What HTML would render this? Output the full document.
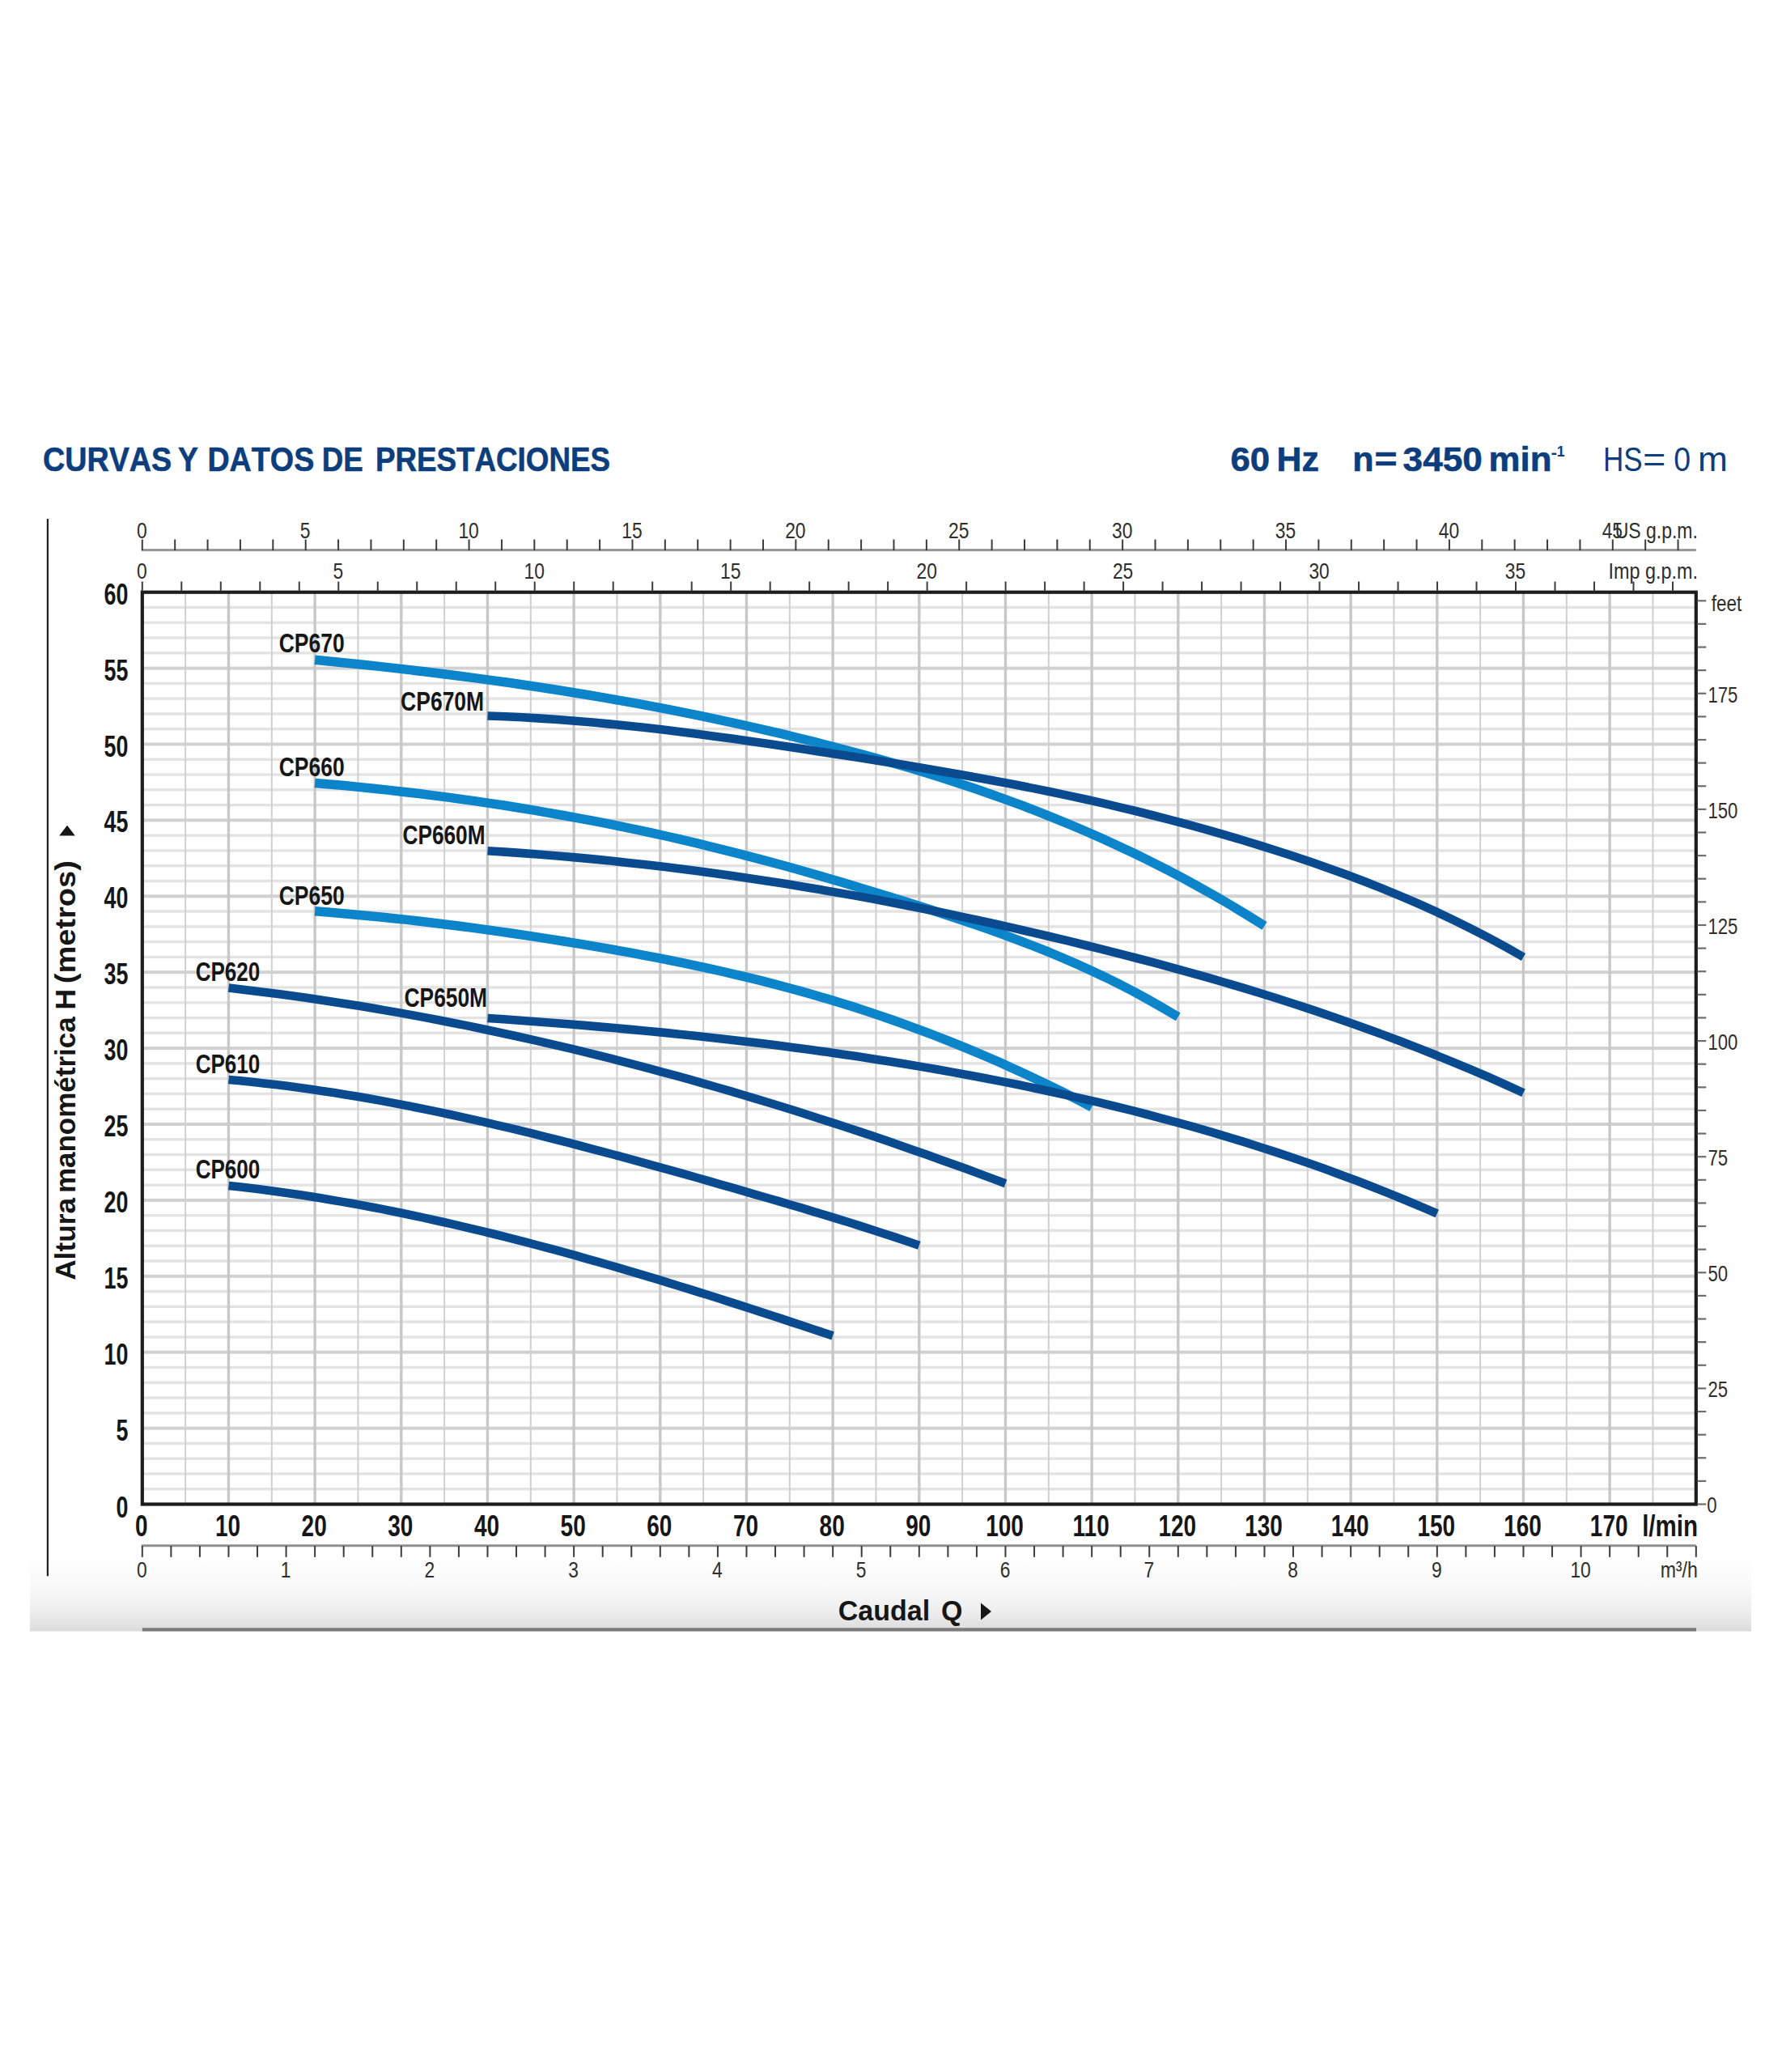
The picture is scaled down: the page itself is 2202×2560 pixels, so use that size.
<!DOCTYPE html>
<html lang="es"><head><meta charset="utf-8"><title>Curvas y datos de prestaciones</title>
<style>html,body{margin:0;padding:0;background:#fff}body{width:2202px;height:2560px;overflow:hidden;font-family:"Liberation Sans",sans-serif}svg{display:block;font-family:"Liberation Sans",sans-serif}</style>
</head><body>
<svg width="2202" height="2560" viewBox="0 0 2202 2560">
<defs><linearGradient id="band" x1="0" y1="0" x2="0" y2="1"><stop offset="0" stop-color="#ffffff"/><stop offset="0.43" stop-color="#fafafa"/><stop offset="0.75" stop-color="#eeeeee"/><stop offset="1" stop-color="#dcdcdc"/></linearGradient></defs>
<g id="chart">
<rect width="2202" height="2560" fill="#fff"/>
<rect x="37" y="1915" width="2127" height="100.5" fill="url(#band)"/>
<rect x="175.8" y="2011.3" width="1920.2" height="4.2" fill="#7c7c7c"/>
<rect x="57.8" y="641" width="2.2" height="1306.3" fill="#222"/>
<text x="53.06" y="581.60" font-size="43" font-weight="bold" fill="#0c3d7c" textLength="159.02" lengthAdjust="spacingAndGlyphs" style="font-kerning:none" stroke="#0c3d7c" stroke-width="0.6">CURVAS</text>
<text x="220.06" y="581.60" font-size="43" font-weight="bold" fill="#0c3d7c" textLength="24.84" lengthAdjust="spacingAndGlyphs" style="font-kerning:none" stroke="#0c3d7c" stroke-width="0.6">Y</text>
<text x="256.38" y="581.60" font-size="43" font-weight="bold" fill="#0c3d7c" textLength="131.89" lengthAdjust="spacingAndGlyphs" style="font-kerning:none" stroke="#0c3d7c" stroke-width="0.6">DATOS</text>
<text x="397.74" y="581.60" font-size="43" font-weight="bold" fill="#0c3d7c" textLength="50.99" lengthAdjust="spacingAndGlyphs" style="font-kerning:none" stroke="#0c3d7c" stroke-width="0.6">DE</text>
<text x="463.94" y="581.60" font-size="43" font-weight="bold" fill="#0c3d7c" textLength="290.10" lengthAdjust="spacingAndGlyphs" style="font-kerning:none" stroke="#0c3d7c" stroke-width="0.6">PRESTACIONES</text>
<text x="1520.40" y="582.00" font-size="43" font-weight="bold" fill="#0c3d7c" textLength="48.70" lengthAdjust="spacingAndGlyphs" style="font-kerning:none" stroke="#0c3d7c" stroke-width="0.6">60</text>
<text x="1577.53" y="582.00" font-size="43" font-weight="bold" fill="#0c3d7c" textLength="52.42" lengthAdjust="spacingAndGlyphs" style="font-kerning:none" stroke="#0c3d7c" stroke-width="0.6">Hz</text>
<text x="1671.16" y="582.00" font-size="43" font-weight="bold" fill="#0c3d7c" textLength="26.31" lengthAdjust="spacingAndGlyphs" style="font-kerning:none" stroke="#0c3d7c" stroke-width="0.6">n</text>
<text x="1698.41" y="582.00" font-size="43" font-weight="bold" fill="#0c3d7c" textLength="28.07" lengthAdjust="spacingAndGlyphs" style="font-kerning:none" stroke="#0c3d7c" stroke-width="0.6">=</text>
<text x="1733.59" y="582.00" font-size="43" font-weight="bold" fill="#0c3d7c" textLength="98.22" lengthAdjust="spacingAndGlyphs" style="font-kerning:none" stroke="#0c3d7c" stroke-width="0.6">3450</text>
<text x="1839.51" y="582.00" font-size="43" font-weight="bold" fill="#0c3d7c" textLength="77.91" lengthAdjust="spacingAndGlyphs" style="font-kerning:none" stroke="#0c3d7c" stroke-width="0.6">min</text>
<text x="1916.51" y="565.50" font-size="20" font-weight="bold" fill="#0c3d7c" textLength="7.61" lengthAdjust="spacingAndGlyphs" style="font-kerning:none">-</text>
<text x="1923.69" y="563.90" font-size="18" font-weight="bold" fill="#0c3d7c" textLength="9.80" lengthAdjust="spacingAndGlyphs" style="font-kerning:none">1</text>
<text x="1980.93" y="582.00" font-size="43" font-weight="normal" fill="#0c3d7c" textLength="48.68" lengthAdjust="spacingAndGlyphs" style="font-kerning:none">HS</text>
<text x="2030.13" y="582.00" font-size="43" font-weight="normal" fill="#0c3d7c" textLength="28.37" lengthAdjust="spacingAndGlyphs" style="font-kerning:none">=</text>
<text x="2068.14" y="582.00" font-size="43" font-weight="normal" fill="#0c3d7c" textLength="20.83" lengthAdjust="spacingAndGlyphs" style="font-kerning:none">0</text>
<text x="2098.06" y="582.00" font-size="43" font-weight="normal" fill="#0c3d7c" textLength="36.85" lengthAdjust="spacingAndGlyphs" style="font-kerning:none">m</text>
<g id="grid">
<rect x="175.8" y="1838.02" width="1920" height="3.4" fill="#e3e3e3"/>
<rect x="175.8" y="1819.24" width="1920" height="3.4" fill="#e3e3e3"/>
<rect x="175.8" y="1800.46" width="1920" height="3.4" fill="#e3e3e3"/>
<rect x="175.8" y="1781.68" width="1920" height="3.4" fill="#e3e3e3"/>
<rect x="175.8" y="1762.60" width="1920" height="4" fill="#d1d1d1"/>
<rect x="175.8" y="1744.12" width="1920" height="3.4" fill="#e3e3e3"/>
<rect x="175.8" y="1725.34" width="1920" height="3.4" fill="#e3e3e3"/>
<rect x="175.8" y="1706.56" width="1920" height="3.4" fill="#e3e3e3"/>
<rect x="175.8" y="1687.78" width="1920" height="3.4" fill="#e3e3e3"/>
<rect x="175.8" y="1668.70" width="1920" height="4" fill="#d1d1d1"/>
<rect x="175.8" y="1650.22" width="1920" height="3.4" fill="#e3e3e3"/>
<rect x="175.8" y="1631.44" width="1920" height="3.4" fill="#e3e3e3"/>
<rect x="175.8" y="1612.66" width="1920" height="3.4" fill="#e3e3e3"/>
<rect x="175.8" y="1593.88" width="1920" height="3.4" fill="#e3e3e3"/>
<rect x="175.8" y="1574.80" width="1920" height="4" fill="#d1d1d1"/>
<rect x="175.8" y="1556.32" width="1920" height="3.4" fill="#e3e3e3"/>
<rect x="175.8" y="1537.54" width="1920" height="3.4" fill="#e3e3e3"/>
<rect x="175.8" y="1518.76" width="1920" height="3.4" fill="#e3e3e3"/>
<rect x="175.8" y="1499.98" width="1920" height="3.4" fill="#e3e3e3"/>
<rect x="175.8" y="1480.90" width="1920" height="4" fill="#d1d1d1"/>
<rect x="175.8" y="1462.42" width="1920" height="3.4" fill="#e3e3e3"/>
<rect x="175.8" y="1443.64" width="1920" height="3.4" fill="#e3e3e3"/>
<rect x="175.8" y="1424.86" width="1920" height="3.4" fill="#e3e3e3"/>
<rect x="175.8" y="1406.08" width="1920" height="3.4" fill="#e3e3e3"/>
<rect x="175.8" y="1387.00" width="1920" height="4" fill="#d1d1d1"/>
<rect x="175.8" y="1368.52" width="1920" height="3.4" fill="#e3e3e3"/>
<rect x="175.8" y="1349.74" width="1920" height="3.4" fill="#e3e3e3"/>
<rect x="175.8" y="1330.96" width="1920" height="3.4" fill="#e3e3e3"/>
<rect x="175.8" y="1312.18" width="1920" height="3.4" fill="#e3e3e3"/>
<rect x="175.8" y="1293.10" width="1920" height="4" fill="#d1d1d1"/>
<rect x="175.8" y="1274.62" width="1920" height="3.4" fill="#e3e3e3"/>
<rect x="175.8" y="1255.84" width="1920" height="3.4" fill="#e3e3e3"/>
<rect x="175.8" y="1237.06" width="1920" height="3.4" fill="#e3e3e3"/>
<rect x="175.8" y="1218.28" width="1920" height="3.4" fill="#e3e3e3"/>
<rect x="175.8" y="1199.20" width="1920" height="4" fill="#d1d1d1"/>
<rect x="175.8" y="1180.72" width="1920" height="3.4" fill="#e3e3e3"/>
<rect x="175.8" y="1161.94" width="1920" height="3.4" fill="#e3e3e3"/>
<rect x="175.8" y="1143.16" width="1920" height="3.4" fill="#e3e3e3"/>
<rect x="175.8" y="1124.38" width="1920" height="3.4" fill="#e3e3e3"/>
<rect x="175.8" y="1105.30" width="1920" height="4" fill="#d1d1d1"/>
<rect x="175.8" y="1086.82" width="1920" height="3.4" fill="#e3e3e3"/>
<rect x="175.8" y="1068.04" width="1920" height="3.4" fill="#e3e3e3"/>
<rect x="175.8" y="1049.26" width="1920" height="3.4" fill="#e3e3e3"/>
<rect x="175.8" y="1030.48" width="1920" height="3.4" fill="#e3e3e3"/>
<rect x="175.8" y="1011.40" width="1920" height="4" fill="#d1d1d1"/>
<rect x="175.8" y="992.92" width="1920" height="3.4" fill="#e3e3e3"/>
<rect x="175.8" y="974.14" width="1920" height="3.4" fill="#e3e3e3"/>
<rect x="175.8" y="955.36" width="1920" height="3.4" fill="#e3e3e3"/>
<rect x="175.8" y="936.58" width="1920" height="3.4" fill="#e3e3e3"/>
<rect x="175.8" y="917.50" width="1920" height="4" fill="#d1d1d1"/>
<rect x="175.8" y="899.02" width="1920" height="3.4" fill="#e3e3e3"/>
<rect x="175.8" y="880.24" width="1920" height="3.4" fill="#e3e3e3"/>
<rect x="175.8" y="861.46" width="1920" height="3.4" fill="#e3e3e3"/>
<rect x="175.8" y="842.68" width="1920" height="3.4" fill="#e3e3e3"/>
<rect x="175.8" y="823.60" width="1920" height="4" fill="#d1d1d1"/>
<rect x="175.8" y="805.12" width="1920" height="3.4" fill="#e3e3e3"/>
<rect x="175.8" y="786.34" width="1920" height="3.4" fill="#e3e3e3"/>
<rect x="175.8" y="767.56" width="1920" height="3.4" fill="#e3e3e3"/>
<rect x="175.8" y="748.78" width="1920" height="3.4" fill="#e3e3e3"/>
<rect x="228.13" y="731.7" width="2" height="1126.8" fill="#d0d0d0"/>
<rect x="280.77" y="731.7" width="3.4" height="1126.8" fill="#c8c8c8"/>
<rect x="334.80" y="731.7" width="2" height="1126.8" fill="#d0d0d0"/>
<rect x="387.43" y="731.7" width="3.4" height="1126.8" fill="#c8c8c8"/>
<rect x="441.47" y="731.7" width="2" height="1126.8" fill="#d0d0d0"/>
<rect x="494.10" y="731.7" width="3.4" height="1126.8" fill="#c8c8c8"/>
<rect x="548.13" y="731.7" width="2" height="1126.8" fill="#d0d0d0"/>
<rect x="600.77" y="731.7" width="3.4" height="1126.8" fill="#c8c8c8"/>
<rect x="654.80" y="731.7" width="2" height="1126.8" fill="#d0d0d0"/>
<rect x="707.43" y="731.7" width="3.4" height="1126.8" fill="#c8c8c8"/>
<rect x="761.47" y="731.7" width="2" height="1126.8" fill="#d0d0d0"/>
<rect x="814.10" y="731.7" width="3.4" height="1126.8" fill="#c8c8c8"/>
<rect x="868.14" y="731.7" width="2" height="1126.8" fill="#d0d0d0"/>
<rect x="920.77" y="731.7" width="3.4" height="1126.8" fill="#c8c8c8"/>
<rect x="974.80" y="731.7" width="2" height="1126.8" fill="#d0d0d0"/>
<rect x="1027.44" y="731.7" width="3.4" height="1126.8" fill="#c8c8c8"/>
<rect x="1081.47" y="731.7" width="2" height="1126.8" fill="#d0d0d0"/>
<rect x="1134.10" y="731.7" width="3.4" height="1126.8" fill="#c8c8c8"/>
<rect x="1188.14" y="731.7" width="2" height="1126.8" fill="#d0d0d0"/>
<rect x="1240.77" y="731.7" width="3.4" height="1126.8" fill="#c8c8c8"/>
<rect x="1294.80" y="731.7" width="2" height="1126.8" fill="#d0d0d0"/>
<rect x="1347.44" y="731.7" width="3.4" height="1126.8" fill="#c8c8c8"/>
<rect x="1401.47" y="731.7" width="2" height="1126.8" fill="#d0d0d0"/>
<rect x="1454.10" y="731.7" width="3.4" height="1126.8" fill="#c8c8c8"/>
<rect x="1508.14" y="731.7" width="2" height="1126.8" fill="#d0d0d0"/>
<rect x="1560.77" y="731.7" width="3.4" height="1126.8" fill="#c8c8c8"/>
<rect x="1614.80" y="731.7" width="2" height="1126.8" fill="#d0d0d0"/>
<rect x="1667.44" y="731.7" width="3.4" height="1126.8" fill="#c8c8c8"/>
<rect x="1721.47" y="731.7" width="2" height="1126.8" fill="#d0d0d0"/>
<rect x="1774.11" y="731.7" width="3.4" height="1126.8" fill="#c8c8c8"/>
<rect x="1828.14" y="731.7" width="2" height="1126.8" fill="#d0d0d0"/>
<rect x="1880.77" y="731.7" width="3.4" height="1126.8" fill="#c8c8c8"/>
<rect x="1934.81" y="731.7" width="2" height="1126.8" fill="#d0d0d0"/>
<rect x="1987.44" y="731.7" width="3.4" height="1126.8" fill="#c8c8c8"/>
<rect x="2041.47" y="731.7" width="2" height="1126.8" fill="#d0d0d0"/>
</g>
<g id="curves">
<path d="M389.1,815.3 L409.0,817.3 L428.9,819.2 L448.8,821.3 L468.7,823.4 L488.6,825.6 L508.5,827.9 L528.3,830.3 L548.2,832.7 L568.1,835.2 L588.0,837.9 L607.9,840.6 L627.8,843.3 L647.7,846.2 L667.6,849.2 L687.4,852.3 L707.3,855.5 L727.2,858.7 L747.1,862.1 L767.0,865.6 L786.9,869.2 L806.8,872.9 L826.6,876.7 L846.5,880.6 L866.4,884.7 L886.3,888.8 L906.2,893.1 L926.1,897.5 L946.0,902.1 L965.9,906.7 L985.7,911.5 L1005.6,916.4 L1025.5,921.5 L1045.4,926.7 L1065.3,932.0 L1085.2,937.5 L1105.1,943.2 L1125.0,949.0 L1144.8,955.0 L1164.7,961.3 L1184.6,967.7 L1204.5,974.3 L1224.4,981.2 L1244.3,988.4 L1264.2,995.7 L1284.1,1003.4 L1303.9,1011.3 L1323.8,1019.5 L1343.7,1028.0 L1363.6,1036.8 L1383.5,1045.9 L1403.4,1055.3 L1423.3,1065.1 L1443.1,1075.2 L1463.0,1085.7 L1482.9,1096.6 L1502.8,1107.8 L1522.7,1119.4 L1542.6,1131.5 L1562.5,1143.9" fill="none" stroke="#0b84c9" stroke-width="11.5" stroke-linejoin="round"/>
<path d="M389.1,967.4 L407.2,969.0 L425.3,970.6 L443.4,972.4 L461.5,974.2 L479.5,976.1 L497.6,978.2 L515.7,980.3 L533.8,982.6 L551.8,984.9 L569.9,987.4 L588.0,989.9 L606.1,992.6 L624.2,995.3 L642.2,998.2 L660.3,1001.2 L678.4,1004.3 L696.5,1007.5 L714.6,1010.8 L732.6,1014.2 L750.7,1017.7 L768.8,1021.4 L786.9,1025.2 L805.0,1029.0 L823.0,1033.0 L841.1,1037.2 L859.2,1041.4 L877.3,1045.8 L895.4,1050.3 L913.4,1054.9 L931.5,1059.6 L949.6,1064.4 L967.7,1069.3 L985.7,1074.3 L1003.8,1079.5 L1021.9,1084.7 L1040.0,1090.0 L1058.1,1095.4 L1076.1,1100.9 L1094.2,1106.4 L1112.3,1112.1 L1130.4,1117.8 L1148.5,1123.6 L1166.5,1129.5 L1184.6,1135.5 L1202.7,1141.6 L1220.8,1147.9 L1238.9,1154.4 L1256.9,1161.1 L1275.0,1168.0 L1293.1,1175.2 L1311.2,1182.7 L1329.2,1190.5 L1347.3,1198.7 L1365.4,1207.2 L1383.5,1216.2 L1401.6,1225.5 L1419.6,1235.4 L1437.7,1245.7 L1455.8,1256.4" fill="none" stroke="#0b84c9" stroke-width="11.5" stroke-linejoin="round"/>
<path d="M389.1,1125.8 L405.4,1127.1 L421.7,1128.4 L437.9,1129.9 L454.2,1131.4 L470.5,1133.0 L486.8,1134.7 L503.0,1136.4 L519.3,1138.3 L535.6,1140.2 L551.8,1142.2 L568.1,1144.2 L584.4,1146.4 L600.7,1148.6 L616.9,1150.9 L633.2,1153.2 L649.5,1155.6 L665.7,1158.1 L682.0,1160.6 L698.3,1163.2 L714.6,1165.9 L730.8,1168.6 L747.1,1171.4 L763.4,1174.3 L779.6,1177.2 L795.9,1180.3 L812.2,1183.4 L828.5,1186.6 L844.7,1189.9 L861.0,1193.3 L877.3,1196.8 L893.5,1200.5 L909.8,1204.3 L926.1,1208.2 L942.4,1212.2 L958.6,1216.4 L974.9,1220.7 L991.2,1225.1 L1007.4,1229.8 L1023.7,1234.6 L1040.0,1239.5 L1056.3,1244.6 L1072.5,1249.9 L1088.8,1255.4 L1105.1,1261.0 L1121.3,1266.8 L1137.6,1272.8 L1153.9,1279.0 L1170.2,1285.4 L1186.4,1291.9 L1202.7,1298.6 L1219.0,1305.5 L1235.2,1312.6 L1251.5,1319.9 L1267.8,1327.4 L1284.1,1335.1 L1300.3,1343.0 L1316.6,1351.0 L1332.9,1359.3 L1349.1,1367.8" fill="none" stroke="#0b84c9" stroke-width="11.5" stroke-linejoin="round"/>
<path d="M602.5,884.5 L624.2,885.3 L645.9,886.3 L667.6,887.6 L689.2,889.0 L710.9,890.7 L732.6,892.5 L754.3,894.6 L776.0,896.7 L797.7,899.1 L819.4,901.6 L841.1,904.2 L862.8,907.0 L884.5,909.9 L906.2,912.8 L927.9,915.9 L949.6,919.1 L971.3,922.3 L993.0,925.6 L1014.7,928.9 L1036.4,932.2 L1058.1,935.6 L1079.8,939.1 L1101.5,942.6 L1123.1,946.1 L1144.8,949.8 L1166.5,953.5 L1188.2,957.3 L1209.9,961.2 L1231.6,965.2 L1253.3,969.3 L1275.0,973.6 L1296.7,978.0 L1318.4,982.6 L1340.1,987.3 L1361.8,992.2 L1383.5,997.3 L1405.2,1002.5 L1426.9,1008.0 L1448.6,1013.6 L1470.3,1019.4 L1492.0,1025.4 L1513.7,1031.6 L1535.4,1038.0 L1557.0,1044.6 L1578.7,1051.5 L1600.4,1058.5 L1622.1,1065.8 L1643.8,1073.4 L1665.5,1081.3 L1687.2,1089.5 L1708.9,1098.1 L1730.6,1107.1 L1752.3,1116.4 L1774.0,1126.2 L1795.7,1136.5 L1817.4,1147.2 L1839.1,1158.4 L1860.8,1170.2 L1882.5,1182.5" fill="none" stroke="#0a4b90" stroke-width="10.6" stroke-linejoin="round"/>
<path d="M602.5,1051.2 L624.2,1052.6 L645.9,1054.1 L667.6,1055.7 L689.2,1057.5 L710.9,1059.4 L732.6,1061.4 L754.3,1063.6 L776.0,1065.9 L797.7,1068.3 L819.4,1070.8 L841.1,1073.5 L862.8,1076.3 L884.5,1079.2 L906.2,1082.3 L927.9,1085.4 L949.6,1088.7 L971.3,1092.1 L993.0,1095.7 L1014.7,1099.3 L1036.4,1103.1 L1058.1,1106.9 L1079.8,1110.9 L1101.5,1115.0 L1123.1,1119.3 L1144.8,1123.6 L1166.5,1128.0 L1188.2,1132.6 L1209.9,1137.3 L1231.6,1142.0 L1253.3,1146.9 L1275.0,1151.9 L1296.7,1157.0 L1318.4,1162.2 L1340.1,1167.5 L1361.8,1172.9 L1383.5,1178.4 L1405.2,1184.0 L1426.9,1189.7 L1448.6,1195.6 L1470.3,1201.6 L1492.0,1207.7 L1513.7,1214.0 L1535.4,1220.4 L1557.0,1227.0 L1578.7,1233.8 L1600.4,1240.8 L1622.1,1247.9 L1643.8,1255.2 L1665.5,1262.7 L1687.2,1270.4 L1708.9,1278.4 L1730.6,1286.5 L1752.3,1294.9 L1774.0,1303.5 L1795.7,1312.3 L1817.4,1321.4 L1839.1,1330.7 L1860.8,1340.3 L1882.5,1350.2" fill="none" stroke="#0a4b90" stroke-width="10.6" stroke-linejoin="round"/>
<path d="M602.5,1258.0 L622.4,1259.3 L642.2,1260.7 L662.1,1262.2 L682.0,1263.7 L701.9,1265.3 L721.8,1266.9 L741.7,1268.6 L761.6,1270.3 L781.5,1272.1 L801.3,1274.0 L821.2,1275.9 L841.1,1277.9 L861.0,1280.0 L880.9,1282.2 L900.8,1284.4 L920.7,1286.7 L940.5,1289.1 L960.4,1291.6 L980.3,1294.2 L1000.2,1296.8 L1020.1,1299.6 L1040.0,1302.4 L1059.9,1305.3 L1079.8,1308.4 L1099.6,1311.5 L1119.5,1314.7 L1139.4,1318.1 L1159.3,1321.5 L1179.2,1325.1 L1199.1,1328.7 L1219.0,1332.5 L1238.9,1336.4 L1258.7,1340.3 L1278.6,1344.5 L1298.5,1348.7 L1318.4,1353.1 L1338.3,1357.6 L1358.2,1362.2 L1378.1,1367.0 L1398.0,1371.9 L1417.8,1377.0 L1437.7,1382.3 L1457.6,1387.6 L1477.5,1393.2 L1497.4,1398.9 L1517.3,1404.8 L1537.2,1410.9 L1557.0,1417.2 L1576.9,1423.6 L1596.8,1430.3 L1616.7,1437.1 L1636.6,1444.1 L1656.5,1451.4 L1676.4,1458.8 L1696.3,1466.5 L1716.1,1474.4 L1736.0,1482.5 L1755.9,1490.8 L1775.8,1499.4" fill="none" stroke="#0a4b90" stroke-width="10.6" stroke-linejoin="round"/>
<path d="M282.5,1220.6 L298.7,1222.5 L315.0,1224.4 L331.3,1226.5 L347.6,1228.6 L363.8,1230.8 L380.1,1233.1 L396.4,1235.5 L412.6,1237.9 L428.9,1240.5 L445.2,1243.1 L461.5,1245.8 L477.7,1248.6 L494.0,1251.4 L510.3,1254.4 L526.5,1257.4 L542.8,1260.5 L559.1,1263.7 L575.3,1266.9 L591.6,1270.3 L607.9,1273.7 L624.2,1277.2 L640.4,1280.7 L656.7,1284.4 L673.0,1288.1 L689.2,1291.9 L705.5,1295.7 L721.8,1299.6 L738.1,1303.7 L754.3,1307.7 L770.6,1311.9 L786.9,1316.1 L803.1,1320.4 L819.4,1324.8 L835.7,1329.2 L852.0,1333.7 L868.2,1338.3 L884.5,1343.0 L900.8,1347.7 L917.0,1352.5 L933.3,1357.3 L949.6,1362.3 L965.9,1367.3 L982.1,1372.3 L998.4,1377.5 L1014.7,1382.7 L1030.9,1387.9 L1047.2,1393.2 L1063.5,1398.6 L1079.8,1404.1 L1096.0,1409.6 L1112.3,1415.2 L1128.6,1420.9 L1144.8,1426.6 L1161.1,1432.4 L1177.4,1438.2 L1193.7,1444.1 L1209.9,1450.1 L1226.2,1456.1 L1242.5,1462.2" fill="none" stroke="#0a4b90" stroke-width="10.6" stroke-linejoin="round"/>
<path d="M282.5,1334.0 L296.9,1335.3 L311.4,1336.8 L325.9,1338.4 L340.3,1340.0 L354.8,1341.8 L369.2,1343.7 L383.7,1345.8 L398.2,1347.9 L412.6,1350.1 L427.1,1352.4 L441.6,1354.8 L456.0,1357.3 L470.5,1359.9 L485.0,1362.6 L499.4,1365.4 L513.9,1368.2 L528.3,1371.1 L542.8,1374.1 L557.3,1377.2 L571.7,1380.4 L586.2,1383.6 L600.7,1386.9 L615.1,1390.3 L629.6,1393.7 L644.1,1397.2 L658.5,1400.7 L673.0,1404.3 L687.4,1408.0 L701.9,1411.7 L716.4,1415.5 L730.8,1419.3 L745.3,1423.1 L759.8,1427.0 L774.2,1430.9 L788.7,1434.8 L803.1,1438.8 L817.6,1442.8 L832.1,1446.9 L846.5,1450.9 L861.0,1455.0 L875.5,1459.2 L889.9,1463.3 L904.4,1467.4 L918.9,1471.6 L933.3,1475.8 L947.8,1480.0 L962.2,1484.2 L976.7,1488.5 L991.2,1492.7 L1005.6,1497.1 L1020.1,1501.4 L1034.6,1505.9 L1049.0,1510.3 L1063.5,1514.9 L1077.9,1519.5 L1092.4,1524.2 L1106.9,1528.9 L1121.3,1533.8 L1135.8,1538.7" fill="none" stroke="#0a4b90" stroke-width="10.6" stroke-linejoin="round"/>
<path d="M282.5,1464.9 L295.1,1466.3 L307.8,1467.8 L320.4,1469.3 L333.1,1471.0 L345.7,1472.7 L358.4,1474.5 L371.1,1476.3 L383.7,1478.3 L396.4,1480.3 L409.0,1482.4 L421.7,1484.6 L434.3,1486.8 L447.0,1489.1 L459.6,1491.5 L472.3,1493.9 L485.0,1496.5 L497.6,1499.0 L510.3,1501.7 L522.9,1504.4 L535.6,1507.2 L548.2,1510.0 L560.9,1512.9 L573.5,1515.8 L586.2,1518.8 L598.9,1521.9 L611.5,1525.0 L624.2,1528.2 L636.8,1531.4 L649.5,1534.6 L662.1,1538.0 L674.8,1541.3 L687.4,1544.7 L700.1,1548.2 L712.8,1551.7 L725.4,1555.3 L738.1,1558.9 L750.7,1562.5 L763.4,1566.2 L776.0,1569.9 L788.7,1573.6 L801.3,1577.4 L814.0,1581.2 L826.6,1585.1 L839.3,1589.0 L852.0,1592.9 L864.6,1596.9 L877.3,1600.8 L889.9,1604.8 L902.6,1608.9 L915.2,1612.9 L927.9,1617.0 L940.5,1621.1 L953.2,1625.3 L965.9,1629.4 L978.5,1633.6 L991.2,1637.8 L1003.8,1642.0 L1016.5,1646.2 L1029.1,1650.4" fill="none" stroke="#0a4b90" stroke-width="10.6" stroke-linejoin="round"/>
</g>
<rect x="175.8" y="731.7" width="1920" height="1126.8" fill="none" stroke="#1c1c1c" stroke-width="4.2"/>
<g id="clabels">
<text x="344.71" y="806.00" font-size="34" font-weight="bold" fill="#161616" textLength="80.97" lengthAdjust="spacingAndGlyphs" style="font-kerning:none">CP670</text>
<text x="344.71" y="958.80" font-size="34" font-weight="bold" fill="#161616" textLength="80.97" lengthAdjust="spacingAndGlyphs" style="font-kerning:none">CP660</text>
<text x="344.71" y="1118.00" font-size="34" font-weight="bold" fill="#161616" textLength="80.97" lengthAdjust="spacingAndGlyphs" style="font-kerning:none">CP650</text>
<text x="495.11" y="878.00" font-size="34" font-weight="bold" fill="#161616" textLength="103.06" lengthAdjust="spacingAndGlyphs" style="font-kerning:none">CP670M</text>
<text x="497.52" y="1042.80" font-size="34" font-weight="bold" fill="#161616" textLength="102.03" lengthAdjust="spacingAndGlyphs" style="font-kerning:none">CP660M</text>
<text x="499.52" y="1244.20" font-size="34" font-weight="bold" fill="#161616" textLength="102.54" lengthAdjust="spacingAndGlyphs" style="font-kerning:none">CP650M</text>
<text x="241.63" y="1211.80" font-size="34" font-weight="bold" fill="#161616" textLength="79.74" lengthAdjust="spacingAndGlyphs" style="font-kerning:none">CP620</text>
<text x="241.63" y="1326.00" font-size="34" font-weight="bold" fill="#161616" textLength="79.74" lengthAdjust="spacingAndGlyphs" style="font-kerning:none">CP610</text>
<text x="241.63" y="1455.80" font-size="34" font-weight="bold" fill="#161616" textLength="79.74" lengthAdjust="spacingAndGlyphs" style="font-kerning:none">CP600</text>
</g>
<g id="ylabels">
<text transform="translate(158.30,1875.00) scale(0.7350,1)" font-size="36.5" font-weight="bold" text-anchor="end" fill="#161616">0</text>
<text transform="translate(158.30,1779.60) scale(0.7350,1)" font-size="36.5" font-weight="bold" text-anchor="end" fill="#161616">5</text>
<text transform="translate(158.30,1685.70) scale(0.7350,1)" font-size="36.5" font-weight="bold" text-anchor="end" fill="#161616">10</text>
<text transform="translate(158.30,1591.80) scale(0.7350,1)" font-size="36.5" font-weight="bold" text-anchor="end" fill="#161616">15</text>
<text transform="translate(158.30,1497.90) scale(0.7350,1)" font-size="36.5" font-weight="bold" text-anchor="end" fill="#161616">20</text>
<text transform="translate(158.30,1404.00) scale(0.7350,1)" font-size="36.5" font-weight="bold" text-anchor="end" fill="#161616">25</text>
<text transform="translate(158.30,1310.10) scale(0.7350,1)" font-size="36.5" font-weight="bold" text-anchor="end" fill="#161616">30</text>
<text transform="translate(158.30,1216.20) scale(0.7350,1)" font-size="36.5" font-weight="bold" text-anchor="end" fill="#161616">35</text>
<text transform="translate(158.30,1122.30) scale(0.7350,1)" font-size="36.5" font-weight="bold" text-anchor="end" fill="#161616">40</text>
<text transform="translate(158.30,1028.40) scale(0.7350,1)" font-size="36.5" font-weight="bold" text-anchor="end" fill="#161616">45</text>
<text transform="translate(158.30,934.50) scale(0.7350,1)" font-size="36.5" font-weight="bold" text-anchor="end" fill="#161616">50</text>
<text transform="translate(158.30,840.60) scale(0.7350,1)" font-size="36.5" font-weight="bold" text-anchor="end" fill="#161616">55</text>
<text transform="translate(158.30,746.70) scale(0.7350,1)" font-size="36.5" font-weight="bold" text-anchor="end" fill="#161616">60</text>
</g>
<g id="xlabels">
<text transform="translate(174.80,1898.20) scale(0.7550,1)" font-size="37" font-weight="bold" text-anchor="middle" fill="#161616">0</text>
<text transform="translate(281.47,1898.20) scale(0.7550,1)" font-size="37" font-weight="bold" text-anchor="middle" fill="#161616">10</text>
<text transform="translate(388.13,1898.20) scale(0.7550,1)" font-size="37" font-weight="bold" text-anchor="middle" fill="#161616">20</text>
<text transform="translate(494.80,1898.20) scale(0.7550,1)" font-size="37" font-weight="bold" text-anchor="middle" fill="#161616">30</text>
<text transform="translate(601.47,1898.20) scale(0.7550,1)" font-size="37" font-weight="bold" text-anchor="middle" fill="#161616">40</text>
<text transform="translate(708.13,1898.20) scale(0.7550,1)" font-size="37" font-weight="bold" text-anchor="middle" fill="#161616">50</text>
<text transform="translate(814.80,1898.20) scale(0.7550,1)" font-size="37" font-weight="bold" text-anchor="middle" fill="#161616">60</text>
<text transform="translate(921.47,1898.20) scale(0.7550,1)" font-size="37" font-weight="bold" text-anchor="middle" fill="#161616">70</text>
<text transform="translate(1028.14,1898.20) scale(0.7550,1)" font-size="37" font-weight="bold" text-anchor="middle" fill="#161616">80</text>
<text transform="translate(1134.80,1898.20) scale(0.7550,1)" font-size="37" font-weight="bold" text-anchor="middle" fill="#161616">90</text>
<text transform="translate(1241.47,1898.20) scale(0.7550,1)" font-size="37" font-weight="bold" text-anchor="middle" fill="#161616">100</text>
<text transform="translate(1348.14,1898.20) scale(0.7550,1)" font-size="37" font-weight="bold" text-anchor="middle" fill="#161616">110</text>
<text transform="translate(1454.80,1898.20) scale(0.7550,1)" font-size="37" font-weight="bold" text-anchor="middle" fill="#161616">120</text>
<text transform="translate(1561.47,1898.20) scale(0.7550,1)" font-size="37" font-weight="bold" text-anchor="middle" fill="#161616">130</text>
<text transform="translate(1668.14,1898.20) scale(0.7550,1)" font-size="37" font-weight="bold" text-anchor="middle" fill="#161616">140</text>
<text transform="translate(1774.81,1898.20) scale(0.7550,1)" font-size="37" font-weight="bold" text-anchor="middle" fill="#161616">150</text>
<text transform="translate(1881.47,1898.20) scale(0.7550,1)" font-size="37" font-weight="bold" text-anchor="middle" fill="#161616">160</text>
<text transform="translate(1988.14,1898.20) scale(0.7550,1)" font-size="37" font-weight="bold" text-anchor="middle" fill="#161616">170</text>
<text x="2029.14" y="1898.20" font-size="36.5" font-weight="bold" fill="#161616" textLength="69.00" lengthAdjust="spacingAndGlyphs" style="font-kerning:none">l/min</text>
</g>
<g id="usgpm">
<rect x="174.8" y="678.1" width="1921.0" height="3" fill="#959595"/>
<rect x="174.80" y="666.5" width="2" height="13.5" fill="#3c3c3c"/>
<text transform="translate(175.30,664.60) scale(0.8000,1)" font-size="28.5" font-weight="normal" text-anchor="middle" fill="#2e2e2e">0</text>
<rect x="215.18" y="666.5" width="2" height="13.5" fill="#3c3c3c"/>
<rect x="255.56" y="666.5" width="2" height="13.5" fill="#3c3c3c"/>
<rect x="295.93" y="666.5" width="2" height="13.5" fill="#3c3c3c"/>
<rect x="336.31" y="666.5" width="2" height="13.5" fill="#3c3c3c"/>
<rect x="376.69" y="666.5" width="2" height="13.5" fill="#3c3c3c"/>
<text transform="translate(377.19,664.60) scale(0.8000,1)" font-size="28.5" font-weight="normal" text-anchor="middle" fill="#2e2e2e">5</text>
<rect x="417.07" y="666.5" width="2" height="13.5" fill="#3c3c3c"/>
<rect x="457.44" y="666.5" width="2" height="13.5" fill="#3c3c3c"/>
<rect x="497.82" y="666.5" width="2" height="13.5" fill="#3c3c3c"/>
<rect x="538.20" y="666.5" width="2" height="13.5" fill="#3c3c3c"/>
<rect x="578.58" y="666.5" width="2" height="13.5" fill="#3c3c3c"/>
<text transform="translate(579.08,664.60) scale(0.8000,1)" font-size="28.5" font-weight="normal" text-anchor="middle" fill="#2e2e2e">10</text>
<rect x="618.95" y="666.5" width="2" height="13.5" fill="#3c3c3c"/>
<rect x="659.33" y="666.5" width="2" height="13.5" fill="#3c3c3c"/>
<rect x="699.71" y="666.5" width="2" height="13.5" fill="#3c3c3c"/>
<rect x="740.09" y="666.5" width="2" height="13.5" fill="#3c3c3c"/>
<rect x="780.47" y="666.5" width="2" height="13.5" fill="#3c3c3c"/>
<text transform="translate(780.97,664.60) scale(0.8000,1)" font-size="28.5" font-weight="normal" text-anchor="middle" fill="#2e2e2e">15</text>
<rect x="820.84" y="666.5" width="2" height="13.5" fill="#3c3c3c"/>
<rect x="861.22" y="666.5" width="2" height="13.5" fill="#3c3c3c"/>
<rect x="901.60" y="666.5" width="2" height="13.5" fill="#3c3c3c"/>
<rect x="941.98" y="666.5" width="2" height="13.5" fill="#3c3c3c"/>
<rect x="982.35" y="666.5" width="2" height="13.5" fill="#3c3c3c"/>
<text transform="translate(982.85,664.60) scale(0.8000,1)" font-size="28.5" font-weight="normal" text-anchor="middle" fill="#2e2e2e">20</text>
<rect x="1022.73" y="666.5" width="2" height="13.5" fill="#3c3c3c"/>
<rect x="1063.11" y="666.5" width="2" height="13.5" fill="#3c3c3c"/>
<rect x="1103.49" y="666.5" width="2" height="13.5" fill="#3c3c3c"/>
<rect x="1143.87" y="666.5" width="2" height="13.5" fill="#3c3c3c"/>
<rect x="1184.24" y="666.5" width="2" height="13.5" fill="#3c3c3c"/>
<text transform="translate(1184.74,664.60) scale(0.8000,1)" font-size="28.5" font-weight="normal" text-anchor="middle" fill="#2e2e2e">25</text>
<rect x="1224.62" y="666.5" width="2" height="13.5" fill="#3c3c3c"/>
<rect x="1265.00" y="666.5" width="2" height="13.5" fill="#3c3c3c"/>
<rect x="1305.38" y="666.5" width="2" height="13.5" fill="#3c3c3c"/>
<rect x="1345.75" y="666.5" width="2" height="13.5" fill="#3c3c3c"/>
<rect x="1386.13" y="666.5" width="2" height="13.5" fill="#3c3c3c"/>
<text transform="translate(1386.63,664.60) scale(0.8000,1)" font-size="28.5" font-weight="normal" text-anchor="middle" fill="#2e2e2e">30</text>
<rect x="1426.51" y="666.5" width="2" height="13.5" fill="#3c3c3c"/>
<rect x="1466.89" y="666.5" width="2" height="13.5" fill="#3c3c3c"/>
<rect x="1507.26" y="666.5" width="2" height="13.5" fill="#3c3c3c"/>
<rect x="1547.64" y="666.5" width="2" height="13.5" fill="#3c3c3c"/>
<rect x="1588.02" y="666.5" width="2" height="13.5" fill="#3c3c3c"/>
<text transform="translate(1588.52,664.60) scale(0.8000,1)" font-size="28.5" font-weight="normal" text-anchor="middle" fill="#2e2e2e">35</text>
<rect x="1628.40" y="666.5" width="2" height="13.5" fill="#3c3c3c"/>
<rect x="1668.78" y="666.5" width="2" height="13.5" fill="#3c3c3c"/>
<rect x="1709.15" y="666.5" width="2" height="13.5" fill="#3c3c3c"/>
<rect x="1749.53" y="666.5" width="2" height="13.5" fill="#3c3c3c"/>
<rect x="1789.91" y="666.5" width="2" height="13.5" fill="#3c3c3c"/>
<text transform="translate(1790.41,664.60) scale(0.8000,1)" font-size="28.5" font-weight="normal" text-anchor="middle" fill="#2e2e2e">40</text>
<rect x="1830.29" y="666.5" width="2" height="13.5" fill="#3c3c3c"/>
<rect x="1870.66" y="666.5" width="2" height="13.5" fill="#3c3c3c"/>
<rect x="1911.04" y="666.5" width="2" height="13.5" fill="#3c3c3c"/>
<rect x="1951.42" y="666.5" width="2" height="13.5" fill="#3c3c3c"/>
<rect x="1991.80" y="666.5" width="2" height="13.5" fill="#3c3c3c"/>
<text transform="translate(1992.30,664.60) scale(0.8000,1)" font-size="28.5" font-weight="normal" text-anchor="middle" fill="#2e2e2e">45</text>
<rect x="2032.18" y="666.5" width="2" height="13.5" fill="#3c3c3c"/>
<rect x="2072.55" y="666.5" width="2" height="13.5" fill="#3c3c3c"/>
<text x="1995.73" y="664.60" font-size="28.5" font-weight="normal" fill="#2e2e2e" textLength="102.17" lengthAdjust="spacingAndGlyphs" style="font-kerning:none">US g.p.m.</text>
</g>
<g id="impgpm">
<rect x="174.80" y="718.5" width="2" height="12" fill="#3c3c3c"/>
<text transform="translate(175.30,715.00) scale(0.8000,1)" font-size="28.5" font-weight="normal" text-anchor="middle" fill="#2e2e2e">0</text>
<rect x="223.29" y="718.5" width="2" height="12" fill="#3c3c3c"/>
<rect x="271.78" y="718.5" width="2" height="12" fill="#3c3c3c"/>
<rect x="320.28" y="718.5" width="2" height="12" fill="#3c3c3c"/>
<rect x="368.77" y="718.5" width="2" height="12" fill="#3c3c3c"/>
<rect x="417.26" y="718.5" width="2" height="12" fill="#3c3c3c"/>
<text transform="translate(417.76,715.00) scale(0.8000,1)" font-size="28.5" font-weight="normal" text-anchor="middle" fill="#2e2e2e">5</text>
<rect x="465.75" y="718.5" width="2" height="12" fill="#3c3c3c"/>
<rect x="514.24" y="718.5" width="2" height="12" fill="#3c3c3c"/>
<rect x="562.73" y="718.5" width="2" height="12" fill="#3c3c3c"/>
<rect x="611.23" y="718.5" width="2" height="12" fill="#3c3c3c"/>
<rect x="659.72" y="718.5" width="2" height="12" fill="#3c3c3c"/>
<text transform="translate(660.22,715.00) scale(0.8000,1)" font-size="28.5" font-weight="normal" text-anchor="middle" fill="#2e2e2e">10</text>
<rect x="708.21" y="718.5" width="2" height="12" fill="#3c3c3c"/>
<rect x="756.70" y="718.5" width="2" height="12" fill="#3c3c3c"/>
<rect x="805.19" y="718.5" width="2" height="12" fill="#3c3c3c"/>
<rect x="853.68" y="718.5" width="2" height="12" fill="#3c3c3c"/>
<rect x="902.18" y="718.5" width="2" height="12" fill="#3c3c3c"/>
<text transform="translate(902.68,715.00) scale(0.8000,1)" font-size="28.5" font-weight="normal" text-anchor="middle" fill="#2e2e2e">15</text>
<rect x="950.67" y="718.5" width="2" height="12" fill="#3c3c3c"/>
<rect x="999.16" y="718.5" width="2" height="12" fill="#3c3c3c"/>
<rect x="1047.65" y="718.5" width="2" height="12" fill="#3c3c3c"/>
<rect x="1096.14" y="718.5" width="2" height="12" fill="#3c3c3c"/>
<rect x="1144.64" y="718.5" width="2" height="12" fill="#3c3c3c"/>
<text transform="translate(1145.14,715.00) scale(0.8000,1)" font-size="28.5" font-weight="normal" text-anchor="middle" fill="#2e2e2e">20</text>
<rect x="1193.13" y="718.5" width="2" height="12" fill="#3c3c3c"/>
<rect x="1241.62" y="718.5" width="2" height="12" fill="#3c3c3c"/>
<rect x="1290.11" y="718.5" width="2" height="12" fill="#3c3c3c"/>
<rect x="1338.60" y="718.5" width="2" height="12" fill="#3c3c3c"/>
<rect x="1387.09" y="718.5" width="2" height="12" fill="#3c3c3c"/>
<text transform="translate(1387.59,715.00) scale(0.8000,1)" font-size="28.5" font-weight="normal" text-anchor="middle" fill="#2e2e2e">25</text>
<rect x="1435.59" y="718.5" width="2" height="12" fill="#3c3c3c"/>
<rect x="1484.08" y="718.5" width="2" height="12" fill="#3c3c3c"/>
<rect x="1532.57" y="718.5" width="2" height="12" fill="#3c3c3c"/>
<rect x="1581.06" y="718.5" width="2" height="12" fill="#3c3c3c"/>
<rect x="1629.55" y="718.5" width="2" height="12" fill="#3c3c3c"/>
<text transform="translate(1630.05,715.00) scale(0.8000,1)" font-size="28.5" font-weight="normal" text-anchor="middle" fill="#2e2e2e">30</text>
<rect x="1678.05" y="718.5" width="2" height="12" fill="#3c3c3c"/>
<rect x="1726.54" y="718.5" width="2" height="12" fill="#3c3c3c"/>
<rect x="1775.03" y="718.5" width="2" height="12" fill="#3c3c3c"/>
<rect x="1823.52" y="718.5" width="2" height="12" fill="#3c3c3c"/>
<rect x="1872.01" y="718.5" width="2" height="12" fill="#3c3c3c"/>
<text transform="translate(1872.51,715.00) scale(0.8000,1)" font-size="28.5" font-weight="normal" text-anchor="middle" fill="#2e2e2e">35</text>
<rect x="1920.50" y="718.5" width="2" height="12" fill="#3c3c3c"/>
<rect x="1969.00" y="718.5" width="2" height="12" fill="#3c3c3c"/>
<rect x="2017.49" y="718.5" width="2" height="12" fill="#3c3c3c"/>
<rect x="2065.98" y="718.5" width="2" height="12" fill="#3c3c3c"/>
<text x="1987.54" y="715.00" font-size="28.5" font-weight="normal" fill="#2e2e2e" textLength="110.39" lengthAdjust="spacingAndGlyphs" style="font-kerning:none">Imp g.p.m.</text>
</g>
<g id="m3h">
<rect x="174.8" y="1908.2" width="1921.0" height="3" fill="#909090"/>
<rect x="174.80" y="1910" width="2" height="13.8" fill="#3c3c3c"/>
<text transform="translate(175.30,1948.60) scale(0.8000,1)" font-size="28.5" font-weight="normal" text-anchor="middle" fill="#2e2e2e">0</text>
<rect x="210.36" y="1910" width="2" height="13.8" fill="#3c3c3c"/>
<rect x="245.91" y="1910" width="2" height="13.8" fill="#3c3c3c"/>
<rect x="281.47" y="1910" width="2" height="13.8" fill="#3c3c3c"/>
<rect x="317.02" y="1910" width="2" height="13.8" fill="#3c3c3c"/>
<rect x="352.58" y="1910" width="2" height="13.8" fill="#3c3c3c"/>
<text transform="translate(353.08,1948.60) scale(0.8000,1)" font-size="28.5" font-weight="normal" text-anchor="middle" fill="#2e2e2e">1</text>
<rect x="388.13" y="1910" width="2" height="13.8" fill="#3c3c3c"/>
<rect x="423.69" y="1910" width="2" height="13.8" fill="#3c3c3c"/>
<rect x="459.25" y="1910" width="2" height="13.8" fill="#3c3c3c"/>
<rect x="494.80" y="1910" width="2" height="13.8" fill="#3c3c3c"/>
<rect x="530.36" y="1910" width="2" height="13.8" fill="#3c3c3c"/>
<text transform="translate(530.86,1948.60) scale(0.8000,1)" font-size="28.5" font-weight="normal" text-anchor="middle" fill="#2e2e2e">2</text>
<rect x="565.91" y="1910" width="2" height="13.8" fill="#3c3c3c"/>
<rect x="601.47" y="1910" width="2" height="13.8" fill="#3c3c3c"/>
<rect x="637.02" y="1910" width="2" height="13.8" fill="#3c3c3c"/>
<rect x="672.58" y="1910" width="2" height="13.8" fill="#3c3c3c"/>
<rect x="708.13" y="1910" width="2" height="13.8" fill="#3c3c3c"/>
<text transform="translate(708.63,1948.60) scale(0.8000,1)" font-size="28.5" font-weight="normal" text-anchor="middle" fill="#2e2e2e">3</text>
<rect x="743.69" y="1910" width="2" height="13.8" fill="#3c3c3c"/>
<rect x="779.25" y="1910" width="2" height="13.8" fill="#3c3c3c"/>
<rect x="814.80" y="1910" width="2" height="13.8" fill="#3c3c3c"/>
<rect x="850.36" y="1910" width="2" height="13.8" fill="#3c3c3c"/>
<rect x="885.91" y="1910" width="2" height="13.8" fill="#3c3c3c"/>
<text transform="translate(886.41,1948.60) scale(0.8000,1)" font-size="28.5" font-weight="normal" text-anchor="middle" fill="#2e2e2e">4</text>
<rect x="921.47" y="1910" width="2" height="13.8" fill="#3c3c3c"/>
<rect x="957.02" y="1910" width="2" height="13.8" fill="#3c3c3c"/>
<rect x="992.58" y="1910" width="2" height="13.8" fill="#3c3c3c"/>
<rect x="1028.14" y="1910" width="2" height="13.8" fill="#3c3c3c"/>
<rect x="1063.69" y="1910" width="2" height="13.8" fill="#3c3c3c"/>
<text transform="translate(1064.19,1948.60) scale(0.8000,1)" font-size="28.5" font-weight="normal" text-anchor="middle" fill="#2e2e2e">5</text>
<rect x="1099.25" y="1910" width="2" height="13.8" fill="#3c3c3c"/>
<rect x="1134.80" y="1910" width="2" height="13.8" fill="#3c3c3c"/>
<rect x="1170.36" y="1910" width="2" height="13.8" fill="#3c3c3c"/>
<rect x="1205.91" y="1910" width="2" height="13.8" fill="#3c3c3c"/>
<rect x="1241.47" y="1910" width="2" height="13.8" fill="#3c3c3c"/>
<text transform="translate(1241.97,1948.60) scale(0.8000,1)" font-size="28.5" font-weight="normal" text-anchor="middle" fill="#2e2e2e">6</text>
<rect x="1277.03" y="1910" width="2" height="13.8" fill="#3c3c3c"/>
<rect x="1312.58" y="1910" width="2" height="13.8" fill="#3c3c3c"/>
<rect x="1348.14" y="1910" width="2" height="13.8" fill="#3c3c3c"/>
<rect x="1383.69" y="1910" width="2" height="13.8" fill="#3c3c3c"/>
<rect x="1419.25" y="1910" width="2" height="13.8" fill="#3c3c3c"/>
<text transform="translate(1419.75,1948.60) scale(0.8000,1)" font-size="28.5" font-weight="normal" text-anchor="middle" fill="#2e2e2e">7</text>
<rect x="1454.80" y="1910" width="2" height="13.8" fill="#3c3c3c"/>
<rect x="1490.36" y="1910" width="2" height="13.8" fill="#3c3c3c"/>
<rect x="1525.92" y="1910" width="2" height="13.8" fill="#3c3c3c"/>
<rect x="1561.47" y="1910" width="2" height="13.8" fill="#3c3c3c"/>
<rect x="1597.03" y="1910" width="2" height="13.8" fill="#3c3c3c"/>
<text transform="translate(1597.53,1948.60) scale(0.8000,1)" font-size="28.5" font-weight="normal" text-anchor="middle" fill="#2e2e2e">8</text>
<rect x="1632.58" y="1910" width="2" height="13.8" fill="#3c3c3c"/>
<rect x="1668.14" y="1910" width="2" height="13.8" fill="#3c3c3c"/>
<rect x="1703.69" y="1910" width="2" height="13.8" fill="#3c3c3c"/>
<rect x="1739.25" y="1910" width="2" height="13.8" fill="#3c3c3c"/>
<rect x="1774.81" y="1910" width="2" height="13.8" fill="#3c3c3c"/>
<text transform="translate(1775.31,1948.60) scale(0.8000,1)" font-size="28.5" font-weight="normal" text-anchor="middle" fill="#2e2e2e">9</text>
<rect x="1810.36" y="1910" width="2" height="13.8" fill="#3c3c3c"/>
<rect x="1845.92" y="1910" width="2" height="13.8" fill="#3c3c3c"/>
<rect x="1881.47" y="1910" width="2" height="13.8" fill="#3c3c3c"/>
<rect x="1917.03" y="1910" width="2" height="13.8" fill="#3c3c3c"/>
<rect x="1952.58" y="1910" width="2" height="13.8" fill="#3c3c3c"/>
<text transform="translate(1953.08,1948.60) scale(0.8000,1)" font-size="28.5" font-weight="normal" text-anchor="middle" fill="#2e2e2e">10</text>
<rect x="1988.14" y="1910" width="2" height="13.8" fill="#3c3c3c"/>
<rect x="2023.69" y="1910" width="2" height="13.8" fill="#3c3c3c"/>
<rect x="2059.25" y="1910" width="2" height="13.8" fill="#3c3c3c"/>
<rect x="2094.81" y="1910" width="2" height="13.8" fill="#3c3c3c"/>
<text x="2051.67" y="1948.60" font-size="28.5" font-weight="normal" fill="#2e2e2e" textLength="46.13" lengthAdjust="spacingAndGlyphs" style="font-kerning:none">m³/h</text>
</g>
<g id="feet">
<rect x="2097.5" y="1857.40" width="10.8" height="2.2" fill="#6e6e6e"/>
<text transform="translate(2109.30,1869.40) scale(0.7750,1)" font-size="28.5" font-weight="normal" text-anchor="start" fill="#2e2e2e">0</text>
<rect x="2097.5" y="1828.78" width="10.8" height="2.2" fill="#6e6e6e"/>
<rect x="2097.5" y="1800.16" width="10.8" height="2.2" fill="#6e6e6e"/>
<rect x="2097.5" y="1771.54" width="10.8" height="2.2" fill="#6e6e6e"/>
<rect x="2097.5" y="1742.92" width="10.8" height="2.2" fill="#6e6e6e"/>
<rect x="2097.5" y="1714.30" width="10.8" height="2.2" fill="#6e6e6e"/>
<text transform="translate(2110.50,1726.30) scale(0.7750,1)" font-size="28.5" font-weight="normal" text-anchor="start" fill="#2e2e2e">25</text>
<rect x="2097.5" y="1685.68" width="10.8" height="2.2" fill="#6e6e6e"/>
<rect x="2097.5" y="1657.05" width="10.8" height="2.2" fill="#6e6e6e"/>
<rect x="2097.5" y="1628.43" width="10.8" height="2.2" fill="#6e6e6e"/>
<rect x="2097.5" y="1599.81" width="10.8" height="2.2" fill="#6e6e6e"/>
<rect x="2097.5" y="1571.19" width="10.8" height="2.2" fill="#6e6e6e"/>
<text transform="translate(2110.50,1583.19) scale(0.7750,1)" font-size="28.5" font-weight="normal" text-anchor="start" fill="#2e2e2e">50</text>
<rect x="2097.5" y="1542.57" width="10.8" height="2.2" fill="#6e6e6e"/>
<rect x="2097.5" y="1513.95" width="10.8" height="2.2" fill="#6e6e6e"/>
<rect x="2097.5" y="1485.33" width="10.8" height="2.2" fill="#6e6e6e"/>
<rect x="2097.5" y="1456.71" width="10.8" height="2.2" fill="#6e6e6e"/>
<rect x="2097.5" y="1428.09" width="10.8" height="2.2" fill="#6e6e6e"/>
<text transform="translate(2110.50,1440.09) scale(0.7750,1)" font-size="28.5" font-weight="normal" text-anchor="start" fill="#2e2e2e">75</text>
<rect x="2097.5" y="1399.47" width="10.8" height="2.2" fill="#6e6e6e"/>
<rect x="2097.5" y="1370.85" width="10.8" height="2.2" fill="#6e6e6e"/>
<rect x="2097.5" y="1342.23" width="10.8" height="2.2" fill="#6e6e6e"/>
<rect x="2097.5" y="1313.61" width="10.8" height="2.2" fill="#6e6e6e"/>
<rect x="2097.5" y="1284.99" width="10.8" height="2.2" fill="#6e6e6e"/>
<text transform="translate(2110.50,1296.99) scale(0.7750,1)" font-size="28.5" font-weight="normal" text-anchor="start" fill="#2e2e2e">100</text>
<rect x="2097.5" y="1256.36" width="10.8" height="2.2" fill="#6e6e6e"/>
<rect x="2097.5" y="1227.74" width="10.8" height="2.2" fill="#6e6e6e"/>
<rect x="2097.5" y="1199.12" width="10.8" height="2.2" fill="#6e6e6e"/>
<rect x="2097.5" y="1170.50" width="10.8" height="2.2" fill="#6e6e6e"/>
<rect x="2097.5" y="1141.88" width="10.8" height="2.2" fill="#6e6e6e"/>
<text transform="translate(2110.50,1153.88) scale(0.7750,1)" font-size="28.5" font-weight="normal" text-anchor="start" fill="#2e2e2e">125</text>
<rect x="2097.5" y="1113.26" width="10.8" height="2.2" fill="#6e6e6e"/>
<rect x="2097.5" y="1084.64" width="10.8" height="2.2" fill="#6e6e6e"/>
<rect x="2097.5" y="1056.02" width="10.8" height="2.2" fill="#6e6e6e"/>
<rect x="2097.5" y="1027.40" width="10.8" height="2.2" fill="#6e6e6e"/>
<rect x="2097.5" y="998.78" width="10.8" height="2.2" fill="#6e6e6e"/>
<text transform="translate(2110.50,1010.78) scale(0.7750,1)" font-size="28.5" font-weight="normal" text-anchor="start" fill="#2e2e2e">150</text>
<rect x="2097.5" y="970.16" width="10.8" height="2.2" fill="#6e6e6e"/>
<rect x="2097.5" y="941.54" width="10.8" height="2.2" fill="#6e6e6e"/>
<rect x="2097.5" y="912.92" width="10.8" height="2.2" fill="#6e6e6e"/>
<rect x="2097.5" y="884.30" width="10.8" height="2.2" fill="#6e6e6e"/>
<rect x="2097.5" y="855.67" width="10.8" height="2.2" fill="#6e6e6e"/>
<text transform="translate(2110.50,867.67) scale(0.7750,1)" font-size="28.5" font-weight="normal" text-anchor="start" fill="#2e2e2e">175</text>
<rect x="2097.5" y="827.05" width="10.8" height="2.2" fill="#6e6e6e"/>
<rect x="2097.5" y="798.43" width="10.8" height="2.2" fill="#6e6e6e"/>
<rect x="2097.5" y="769.81" width="10.8" height="2.2" fill="#6e6e6e"/>
<rect x="2097.5" y="741.19" width="10.8" height="2.2" fill="#6e6e6e"/>
<text x="2114.68" y="754.70" font-size="28.5" font-weight="normal" fill="#2e2e2e" textLength="37.48" lengthAdjust="spacingAndGlyphs" style="font-kerning:none">feet</text>
</g>
<g transform="translate(93.4,1581) rotate(-90)"><text x="-0.88" y="0.00" font-size="35" font-weight="bold" fill="#161616" textLength="101.95" lengthAdjust="spacingAndGlyphs" style="font-kerning:none">Altura</text></g>
<g transform="translate(93.4,1471.7) rotate(-90)"><text x="-2.30" y="0.00" font-size="35" font-weight="bold" fill="#161616" textLength="217.58" lengthAdjust="spacingAndGlyphs" style="font-kerning:none">manométrica</text></g>
<g transform="translate(93.4,1245.3) rotate(-90)"><text x="-2.39" y="0.00" font-size="35" font-weight="bold" fill="#161616" textLength="25.80" lengthAdjust="spacingAndGlyphs" style="font-kerning:none">H</text></g>
<g transform="translate(93.4,1213.4) rotate(-90)"><text x="-1.89" y="0.00" font-size="35" font-weight="bold" fill="#161616" textLength="152.19" lengthAdjust="spacingAndGlyphs" style="font-kerning:none">(metros)</text></g>
<path d="M73.2,1032.6 L92.8,1032.6 L83,1019.8 Z" fill="#161616"/>
<text x="1035.81" y="2002.30" font-size="35" font-weight="bold" fill="#161616" textLength="113.30" lengthAdjust="spacingAndGlyphs" style="font-kerning:none">Caudal</text>
<text x="1162.91" y="2002.30" font-size="35" font-weight="bold" fill="#161616" textLength="26.42" lengthAdjust="spacingAndGlyphs" style="font-kerning:none">Q</text>
<path d="M1212,1980.4 L1212,2001.4 L1225,1990.9 Z" fill="#161616"/>
</g>
</svg></body></html>
